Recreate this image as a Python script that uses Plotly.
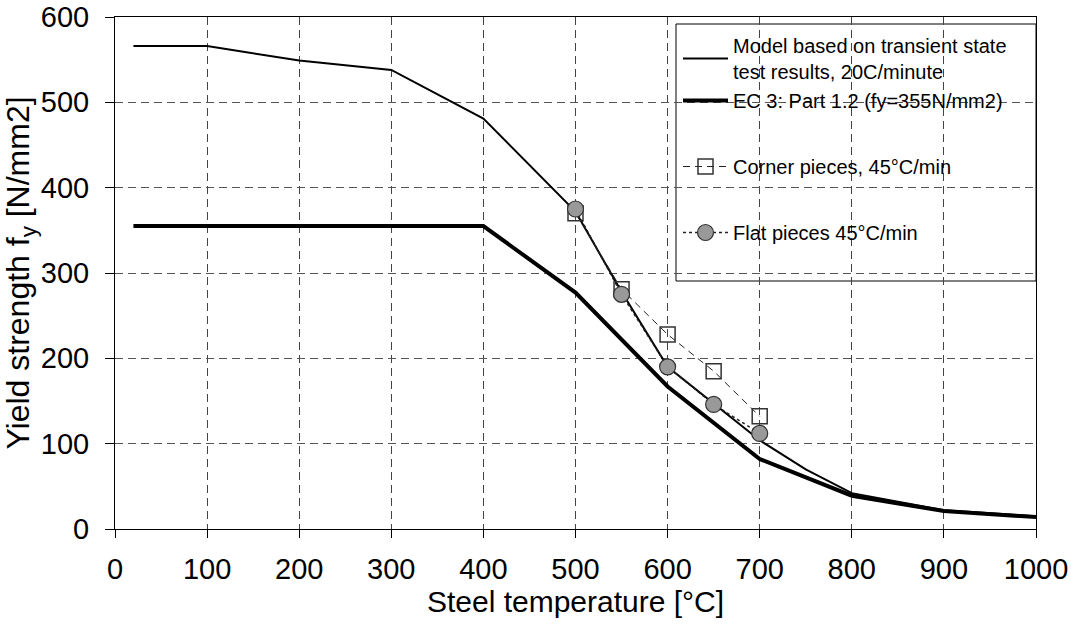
import plotly.graph_objects as go

# Data
model_T = [20, 100, 200, 300, 400, 500, 550, 600, 700, 750, 800, 900, 1000]
model_fy = [566, 566, 549, 538, 481, 372, 278, 190, 104, 70, 42, 22, 15]

ec3_T = [20, 400, 500, 600, 700, 800, 900, 1000]
ec3_fy = [355, 355, 277, 167, 82, 39, 21, 14]

corner_T = [500, 550, 600, 650, 700]
corner_fy = [370, 281, 228, 185, 132]

flat_T = [500, 550, 600, 650, 700]
flat_fy = [375, 275, 190, 146, 112]

x_ticks = list(range(0, 1001, 100))
y_ticks = list(range(0, 601, 100))

FONT = "Liberation Sans, Arial, sans-serif"

fig = go.Figure()
fig.add_trace(go.Scatter(
    x=model_T, y=model_fy, mode="lines",
    name="Model based on transient state<br>test results, 20C/minute",
    line=dict(color="black", width=2), legendgroup="a"))
fig.add_trace(go.Scatter(
    x=ec3_T, y=ec3_fy, mode="lines",
    name="EC 3: Part 1.2 (fy=355N/mm2)",
    line=dict(color="black", width=4), legendgroup="a"))
fig.add_trace(go.Scatter(
    x=corner_T, y=corner_fy, mode="lines+markers",
    name="Corner pieces, 45°C/min",
    line=dict(color="#222", width=1, dash="7px,5px"),
    marker=dict(symbol="square-open", size=15, color="#333", line=dict(width=1.5, color="#333")),
    legendgroup="c"))
fig.add_trace(go.Scatter(
    x=flat_T, y=flat_fy, mode="lines+markers",
    name="Flat pieces 45°C/min",
    line=dict(color="#222", width=1.5, dash="dot"),
    marker=dict(symbol="circle", size=16, color="#999", line=dict(width=1.2, color="#333")),
    legendgroup="d"))

fig.update_layout(
    width=1071, height=624,
    margin=dict(l=115, r=35, t=17, b=95),
    paper_bgcolor="white", plot_bgcolor="white",
    font=dict(family=FONT, size=29, color="black"),
    legend=dict(
        x=(678 - 115) / 921, y=(529 - 26) / 512, xanchor="left", yanchor="top",
        bgcolor="rgba(0,0,0,0)", borderwidth=0,
        font=dict(family=FONT, size=20, color="black"),
        tracegroupgap=37, traceorder="grouped", itemwidth=45,
    ),
    shapes=[dict(type="rect", xref="paper", yref="paper",
                 x0=(676 - 115) / 921, x1=1.0, y0=(529 - 281) / 512, y1=(529 - 24) / 512,
                 line=dict(color="black", width=1), fillcolor="white", layer="below")],
    xaxis=dict(
        range=[0, 1000], tickvals=x_ticks, ticktext=[str(v) for v in x_ticks],
        showline=True, linecolor="black", linewidth=1, mirror=True,
        ticks="outside", ticklen=8, tickcolor="black", ticklabelstandoff=6,
        showgrid=True, gridcolor="#444", griddash="8px,5px", gridwidth=1,
        zeroline=False, automargin=False,
        title=dict(text="Steel temperature [°C]", font=dict(size=30), standoff=2),
        tickfont=dict(size=29),
    ),
    yaxis=dict(
        range=[0, 600], tickvals=y_ticks, ticktext=[str(v) for v in y_ticks],
        showline=True, linecolor="black", linewidth=1, mirror=True,
        ticks="outside", ticklen=9, tickcolor="black", ticklabelstandoff=10,
        showgrid=True, gridcolor="#555", griddash="8px,5px", gridwidth=1,
        zeroline=False, automargin=False,
        title=dict(text="Yield strength f<sub>y</sub> [N/mm2]", font=dict(size=32), standoff=8),
        tickfont=dict(size=29),
    ),
)

fig.write_html("out.html")
